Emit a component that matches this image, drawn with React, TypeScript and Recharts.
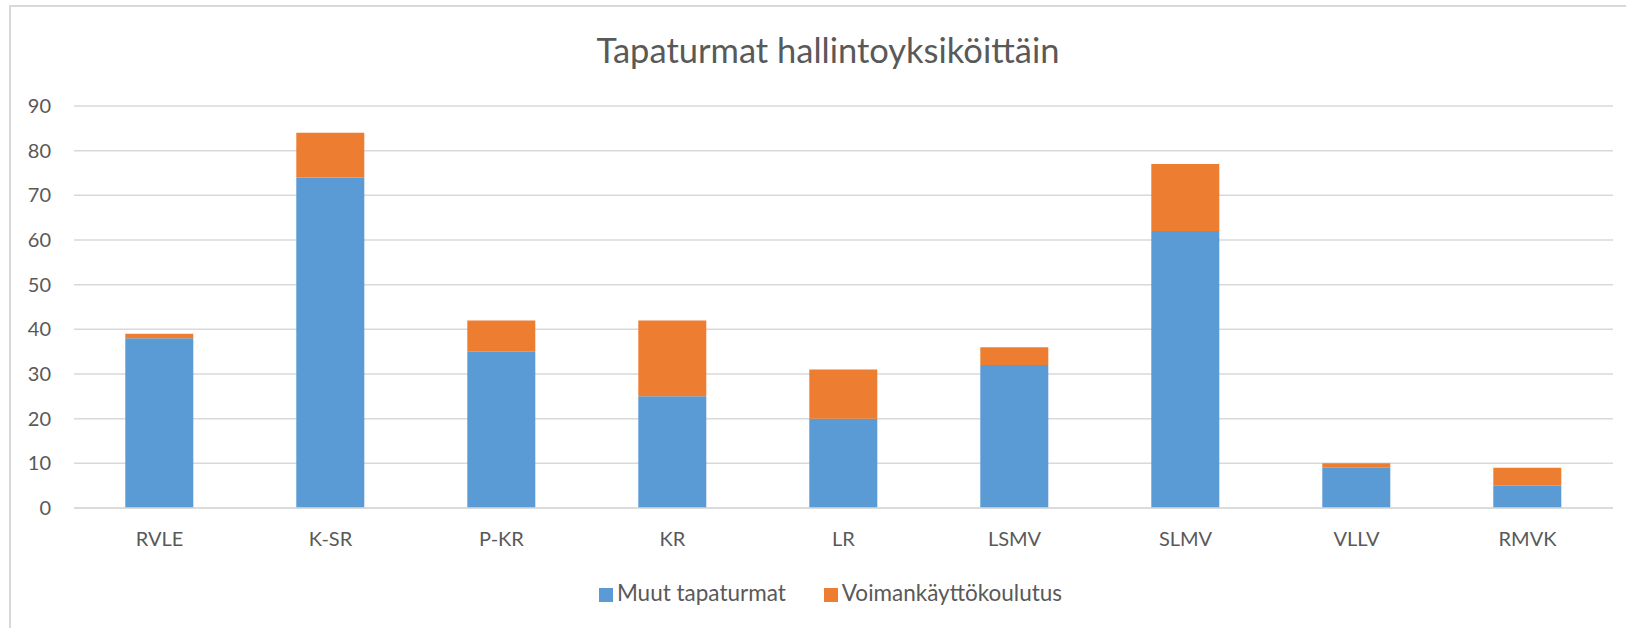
import { BarChart, Bar, XAxis, YAxis, CartesianGrid, Legend } from "recharts";

const units = ["RVLE", "K-SR", "P-KR", "KR", "LR", "LSMV", "SLMV", "VLLV", "RMVK"];
const muut = [38, 74, 35, 25, 20, 32, 62, 9, 5];
const voima = [1, 10, 7, 17, 11, 4, 15, 1, 4];
const yTicks = [0, 10, 20, 30, 40, 50, 60, 70, 80, 90];

const data = units.map((u, i) => ({ unit: u, muut: muut[i], voima: voima[i] }));

const FONT = "Lato, 'Open Sans', sans-serif";
const TEXT = "#595959";

export default function App() {
  return (
    <div
      style={{
        position: "absolute",
        left: 0,
        top: 0,
        width: 1626,
        height: 628,
        background: "#fff",
        fontFamily: FONT,
        overflow: "hidden",
      }}
    >
      <div
        style={{
          position: "absolute",
          left: 9,
          top: 5,
          width: 1640,
          height: 640,
          borderTop: "2px solid #d9d9d9",
          borderLeft: "2px solid #d9d9d9",
        }}
      />
      <div
        style={{
          position: "absolute",
          left: 8,
          width: 1640,
          top: 29,
          textAlign: "center",
          fontSize: 34.5,
          color: TEXT,
          fontWeight: 400,
        }}
      >
        Tapaturmat hallintoyksiköittäin
      </div>
      <div style={{ position: "absolute", left: 0, top: 0 }}>
        <BarChart
          width={1626}
          height={628}
          data={data}
          margin={{ top: 106, right: 13, bottom: 22, left: 0 }}
          barCategoryGap="30%"
        >
          <CartesianGrid vertical={false} stroke="#d9d9d9" strokeWidth={1.5} />
          <XAxis
            dataKey="unit"
            height={72}
            tickLine={false}
            axisLine={{ stroke: "#d9d9d9", strokeWidth: 1.5 }}
            tickMargin={18}
            tick={{ fontSize: 20, fill: TEXT, fontFamily: FONT }}
          />
          <YAxis
            width={74}
            domain={[0, 90]}
            ticks={yTicks}
            interval={0}
            tickLine={false}
            axisLine={false}
            tickMargin={17}
            tick={{ fontSize: 20, fill: TEXT, fontFamily: FONT }}
          />
          <Legend
            verticalAlign="bottom"
            align="center"
            iconType="square"
            iconSize={14}
            wrapperStyle={{ left: 43, fontSize: 22.5, fontFamily: FONT, lineHeight: "26px" }}
            formatter={(v) => <span style={{ color: TEXT, marginRight: 28 }}>{v}</span>}
          />
          <Bar
            dataKey="muut"
            name="Muut tapaturmat"
            stackId="a"
            fill="#5B9BD5"
            isAnimationActive={false}
          />
          <Bar
            dataKey="voima"
            name="Voimankäyttökoulutus"
            stackId="a"
            fill="#ED7D31"
            isAnimationActive={false}
          />
        </BarChart>
      </div>
    </div>
  );
}
